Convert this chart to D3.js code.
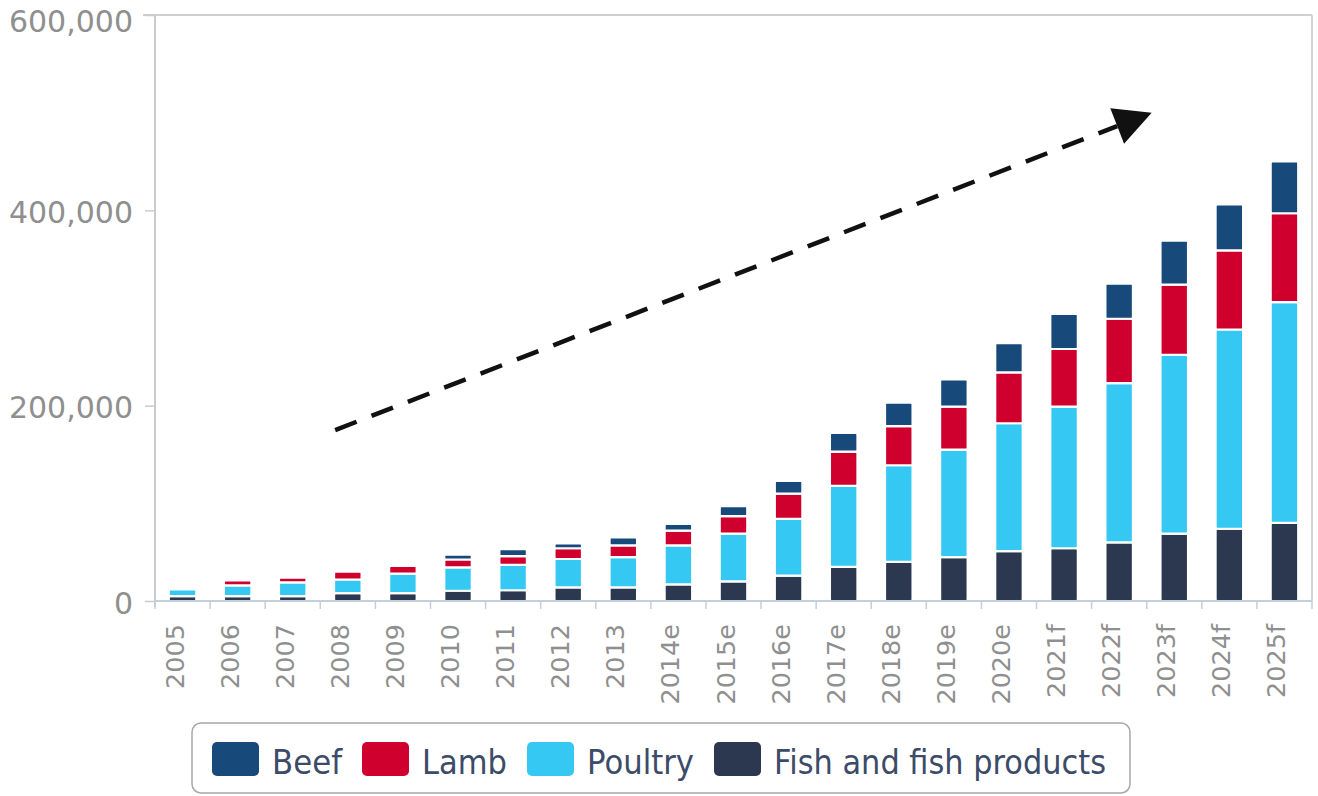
<!DOCTYPE html>
<html>
<head>
<meta charset="utf-8">
<script src="https://cdn.jsdelivr.net/npm/d3@7"></script>
<style>
  body { margin: 0; background: #fff; }
  svg { display: block; }
</style>
</head>
<body>
<svg id="chart" width="1318" height="796"></svg>
<script>
// Years on the x axis (e = estimate, f = forecast)
const categories = ["2005", "2006", "2007", "2008", "2009", "2010", "2011", "2012", "2013",
  "2014e", "2015e", "2016e", "2017e", "2018e", "2019e", "2020e",
  "2021f", "2022f", "2023f", "2024f", "2025f"];

// Volumes per product group (stacked bottom to top: fish, poultry, lamb, beef)
const fish    = [5000, 5000, 5000, 8000, 8000, 10500, 11000, 14000, 14000, 17000, 20000, 26000, 35000, 40000, 45000, 51000, 54000, 60000, 69000, 74000, 80000];
const poultry = [7000, 11000, 14000, 14000, 20000, 24000, 26000, 29000, 31000, 40000, 49000, 58000, 83000, 99000, 110000, 131000, 145000, 163000, 183000, 204000, 226000];
const lamb    = [0, 5000, 5000, 8000, 8000, 8000, 9000, 11000, 12000, 15000, 18000, 26000, 35000, 40000, 44000, 52000, 59000, 66000, 72000, 81000, 91000];
const beef    = [0, 0, 0, 0, 0, 5000, 7000, 5000, 8000, 7000, 10000, 13000, 19000, 24000, 28000, 30000, 36000, 36000, 45000, 47000, 53000];

const stackKeys = ["Fish and fish products", "Poultry", "Lamb", "Beef"];
const legendKeys = ["Beef", "Lamb", "Poultry", "Fish and fish products"];
const seriesColors = ["#2b3850", "#35c8f2", "#d0002e", "#17497b"];
const yTickValues = [0, 200000, 400000, 600000];

// Trend arrow, given in category-step / value units
const trendStart = [3.27, 175000];
const trendEnd = [18.09, 500000];

const svg = d3.select("#chart");
const plotLeft = 155, plotRight = 1312, plotTop = 15, plotBottom = 601;

const rows = categories.map((c, i) => ({
  year: c,
  "Fish and fish products": fish[i],
  "Poultry": poultry[i],
  "Lamb": lamb[i],
  "Beef": beef[i]
}));

const x = d3.scaleBand()
  .domain(categories)
  .range([plotLeft, plotRight])
  .paddingInner(0.5)
  .paddingOuter(0.25);

const y = d3.scaleLinear().domain([0, 600000]).range([plotBottom, plotTop]);

const color = d3.scaleOrdinal().domain(stackKeys).range(seriesColors);

const stacked = d3.stack().keys(stackKeys)(rows);

const grey = "#8f8f8f";
const fontMain = "'DejaVu Sans', Verdana, sans-serif";

// Frame: top and right edges
svg.append("line")
  .attr("x1", plotLeft - 12).attr("x2", plotRight)
  .attr("y1", y(600000)).attr("y2", y(600000))
  .attr("stroke", "#cfcfcf").attr("stroke-width", 2);
svg.append("line")
  .attr("x1", plotRight).attr("x2", plotRight)
  .attr("y1", plotTop).attr("y2", plotBottom)
  .attr("stroke", "#d4d4d4").attr("stroke-width", 2);

// Y axis
const yAxis = svg.append("g").attr("transform", `translate(${plotLeft},0)`)
  .call(d3.axisLeft(y).tickValues(yTickValues).tickSize(10).tickPadding(12)
    .tickFormat(d3.format(",")));
yAxis.select(".domain").attr("stroke", "#cbcbcb").attr("stroke-width", 2)
  .attr("d", `M0,${plotTop}V${plotBottom + 6}`);
yAxis.selectAll(".tick line").attr("stroke", "#cbcbcb").attr("stroke-width", 1.5);
yAxis.selectAll(".tick text")
  .attr("fill", grey)
  .attr("font-family", fontMain)
  .attr("font-size", 30)
  .attr("dy", d => d === 600000 ? "0.55em" : "0.4em");

// Bars
svg.append("g")
  .selectAll("g")
  .data(stacked)
  .join("g")
  .attr("fill", d => color(d.key))
  .selectAll("rect")
  .data(d => d.filter(s => s[1] - s[0] > 0))
  .join("rect")
  .attr("x", d => x(d.data.year))
  .attr("width", x.bandwidth())
  .attr("y", d => y(d[1]))
  .attr("height", d => y(d[0]) - y(d[1]))
  .attr("rx", 1.5)
  .attr("stroke", "#fff")
  .attr("stroke-width", 2.2);

// X axis line and ticks at band boundaries
const step = x.step();
const boundaries = categories.map(c => x(c) - step * x.paddingInner() / 2).concat([plotRight]);
const xAxis = svg.append("g");
xAxis.append("line")
  .attr("x1", plotLeft).attr("x2", plotRight)
  .attr("y1", plotBottom).attr("y2", plotBottom)
  .attr("stroke", "#c3cfdc").attr("stroke-width", 2);
xAxis.selectAll("line.tick")
  .data(boundaries)
  .join("line")
  .attr("class", "tick")
  .attr("x1", d => d).attr("x2", d => d)
  .attr("y1", plotBottom).attr("y2", plotBottom + 8)
  .attr("stroke", "#c3cfdc").attr("stroke-width", 1.5);
xAxis.selectAll("text")
  .data(categories)
  .join("text")
  .attr("transform", d => `translate(${x(d) + x.bandwidth() / 2 + 1},${plotBottom + 23}) rotate(-90)`)
  .attr("text-anchor", "end")
  .attr("fill", grey)
  .attr("font-family", fontMain)
  .attr("font-size", 25.5)
  .text(d => d);

// Dashed trend arrow
const stepPos = i => plotLeft + step * i;
const p0 = [stepPos(trendStart[0]), y(trendStart[1])];
const p1 = [stepPos(trendEnd[0]), y(trendEnd[1])];
const ddx = p1[0] - p0[0], ddy = p1[1] - p0[1];
const len = Math.hypot(ddx, ddy);
const ux = ddx / len, uy = ddy / len;
const headLen = 37, headHalf = 19;
const base = [p1[0] - ux * headLen, p1[1] - uy * headLen];
svg.append("line")
  .attr("x1", p0[0]).attr("y1", p0[1])
  .attr("x2", base[0]).attr("y2", base[1])
  .attr("stroke", "#111").attr("stroke-width", 4.5)
  .attr("stroke-dasharray", "23,16");
svg.append("path")
  .attr("d", `M${p1[0]},${p1[1]}L${base[0] - uy * headHalf},${base[1] + ux * headHalf}L${base[0] + uy * headHalf},${base[1] - ux * headHalf}Z`)
  .attr("fill", "#111");

// Legend
const legend = svg.append("g");
legend.append("rect")
  .attr("x", 192).attr("y", 723)
  .attr("width", 938).attr("height", 70)
  .attr("rx", 9)
  .attr("fill", "#fff")
  .attr("stroke", "#a8a8a8").attr("stroke-width", 1.5);

const legendWidths = { "Beef": 70, "Lamb": 85, "Poultry": 107, "Fish and fish products": 332 };
let lx = 212;
legendKeys.forEach(k => {
  const item = legend.append("g");
  item.append("rect")
    .attr("x", lx).attr("y", 742)
    .attr("width", 47).attr("height", 34)
    .attr("rx", 5)
    .attr("fill", color(k));
  item.append("text")
    .attr("x", lx + 60).attr("y", 774)
    .attr("fill", "#3b4b68")
    .attr("font-family", fontMain)
    .attr("font-size", 33)
    .attr("textLength", legendWidths[k])
    .attr("lengthAdjust", "spacingAndGlyphs")
    .text(k);
  lx += 47 + 13 + legendWidths[k] + 20;
});
</script>
</body>
</html>
